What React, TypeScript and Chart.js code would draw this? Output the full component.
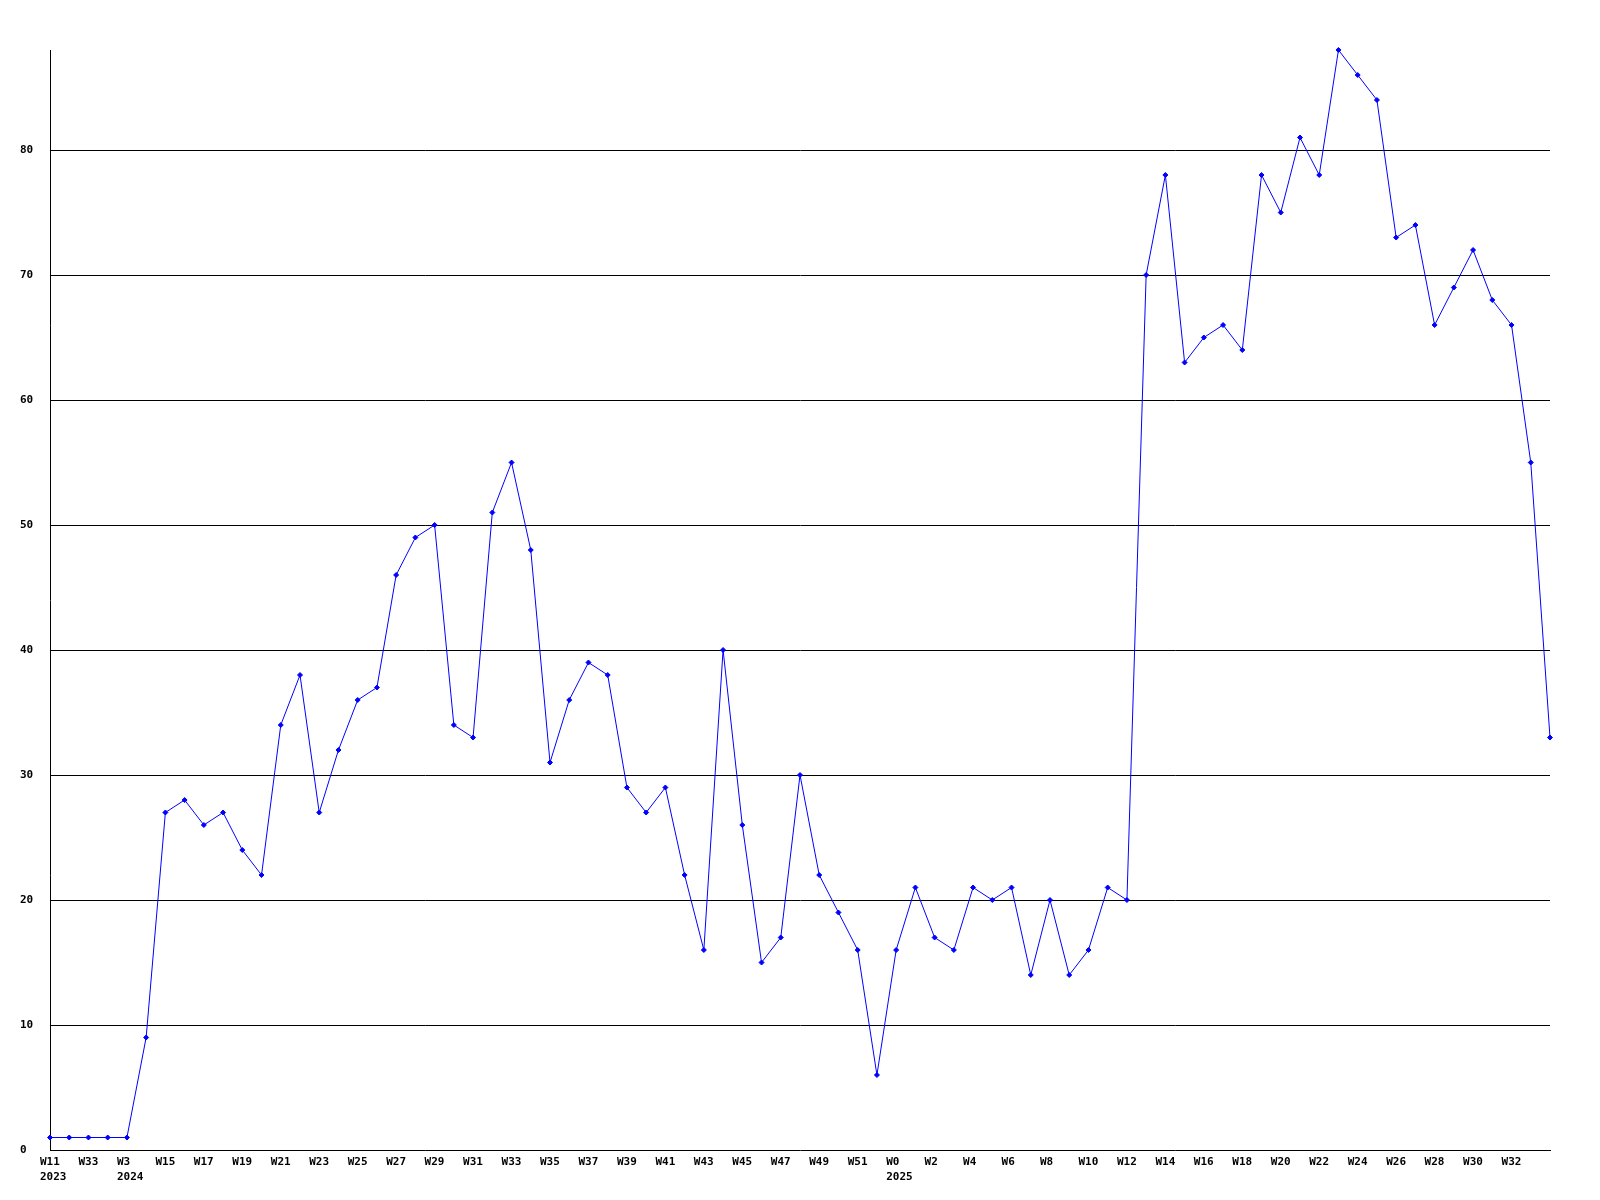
import React, { useEffect, useRef } from "react";
import { Chart, registerables } from "chart.js";

Chart.register(...registerables);

const weekLabels: string[] = [
  "W11", "W22", "W33", "W45", "W3", "W14",
  "W15", "W16", "W17", "W18", "W19", "W20", "W21", "W22", "W23", "W24", "W25", "W26", "W27", "W28",
  "W29", "W30", "W31", "W32", "W33", "W34", "W35", "W36", "W37", "W38", "W39", "W40", "W41", "W42",
  "W43", "W44", "W45", "W46", "W47", "W48", "W49", "W50", "W51", "W52",
  "W0", "W1", "W2", "W3", "W4", "W5", "W6", "W7", "W8", "W9", "W10", "W11", "W12", "W13", "W14",
  "W15", "W16", "W17", "W18", "W19", "W20", "W21", "W22", "W23", "W24", "W25", "W26", "W27", "W28",
  "W29", "W30", "W31", "W32", "W33", "W34",
];

// year shown under a label (index -> year)
const yearLabels: { [k: number]: string } = { 0: "2023", 4: "2024", 44: "2025" };

const values: number[] = [
  1, 1, 1, 1, 1, 9,
  27, 28, 26, 27, 24, 22, 34, 38, 27, 32, 36, 37, 46, 49,
  50, 34, 33, 51, 55, 48, 31, 36, 39, 38, 29, 27, 29, 22,
  16, 40, 26, 15, 17, 30, 22, 19, 16, 6,
  16, 21, 17, 16, 21, 20, 21, 14, 20, 14, 16, 21, 20, 70, 78,
  63, 65, 66, 64, 78, 75, 81, 78, 88, 86, 84, 73, 74, 66,
  69, 72, 68, 66, 55, 33,
];

const yMax = 88;
const yStep = 10;
const FONT = "bold 11px 'DejaVu Sans Mono', 'Liberation Mono', monospace";

const xLabelPlugin = {
  id: "xLabels",
  afterDraw(chart: any) {
    const ctx = chart.ctx;
    const xs = chart.scales.x;
    const bottom = chart.chartArea.bottom;
    ctx.save();
    ctx.font = FONT;
    ctx.fillStyle = "#000";
    ctx.textAlign = "left";
    ctx.textBaseline = "top";
    weekLabels.forEach((lab, i) => {
      if (i % 2 !== 0 || i === weekLabels.length - 1) return;
      const x = xs.getPixelForValue(i) - 10;
      ctx.fillText(lab, x, bottom + 7);
      if (yearLabels[i]) ctx.fillText(yearLabels[i], x, bottom + 22);
    });
    ctx.restore();
  },
};

export default function App() {
  const ref = useRef<HTMLCanvasElement | null>(null);
  useEffect(() => {
    if (!ref.current) return;
    const chart = new Chart(ref.current, {
      type: "line",
      data: {
        labels: weekLabels,
        datasets: [
          {
            data: values,
            borderColor: "#0000ff",
            backgroundColor: "#0000ff",
            borderWidth: 1,
            pointStyle: "rectRot",
            pointRadius: 2.5,
            pointBorderWidth: 1,
            tension: 0,
            clip: false as any,
          },
        ],
      },
      options: {
        animation: false,
        responsive: false,
        maintainAspectRatio: false,
        layout: { padding: { left: 20, top: 50, right: 50, bottom: 50 } },
        plugins: { legend: { display: false }, tooltip: { enabled: false } },
        scales: {
          x: {
            type: "category",
            offset: false,
            grid: { display: false, drawTicks: false },
            border: { display: true, color: "#000", width: 1 },
            ticks: { display: false },
            afterFit(scale: any) {
              scale.height = 0;
            },
          },
          y: {
            min: 0,
            max: yMax,
            ticks: {
              stepSize: yStep,
              crossAlign: "far",
              color: "#000",
              font: { family: "'DejaVu Sans Mono', 'Liberation Mono', monospace", size: 11, weight: "bold" },
              callback: (v: any) => String(v),
            },
            afterBuildTicks(scale: any) {
              scale.ticks = scale.ticks.filter((t: any) => t.value % yStep === 0);
            },
            afterFit(scale: any) {
              scale.width = 30;
            },
            grid: {
              drawTicks: false,
              color: (c: any) => (c.tick && c.tick.value > 0 ? "#000" : "rgba(0,0,0,0)"),
              lineWidth: 1,
            },
            border: { display: true, color: "#000", width: 1 },
          },
        },
      },
      plugins: [xLabelPlugin],
    });
    return () => chart.destroy();
  }, []);
  return (
    <div style={{ position: "fixed", left: 0, top: 0, width: 1600, height: 1200, background: "#fff" }}>
      <canvas ref={ref} width={1600} height={1200} style={{ width: 1600, height: 1200, display: "block" }} />
    </div>
  );
}
